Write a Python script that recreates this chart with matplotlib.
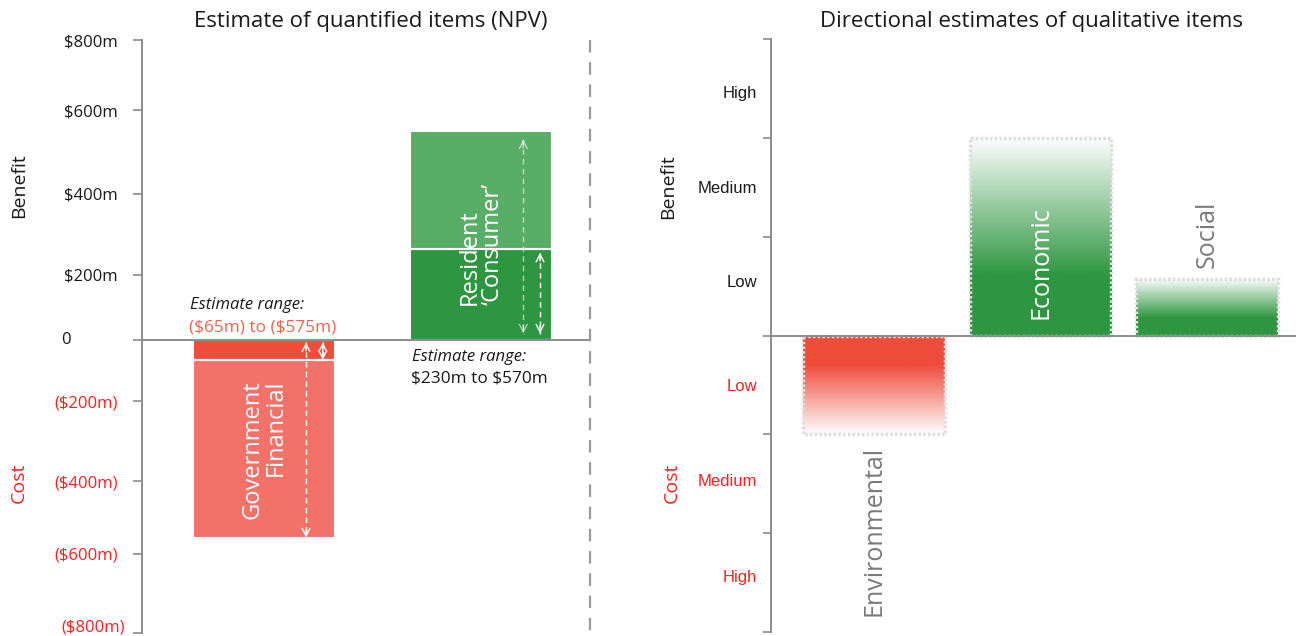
import numpy as np
import matplotlib
matplotlib.use('Agg')
import matplotlib.pyplot as plt
from matplotlib.patches import Rectangle
from matplotlib.lines import Line2D

plt.rcParams['font.family'] = ['Open Sans', 'DejaVu Sans']
plt.rcParams['lines.scale_dashes'] = False
plt.rcParams['text.parse_math'] = False

# ---------------- data ----------------
quant_categories = ['Government\nFinancial', 'Resident\n\u2018Consumer\u2019']
quant_inner = [-65, 265]          # darker first segment
quant_total = [-555, 550]         # full bar value
quant_range_text = ['($65m) to ($575m)', '$230m to $570m']
left_tick_values = [800, 600, 400, 200, 0, -200, -400, -600, -800]
left_tick_labels = ['$800m', '$600m', '$400m', '$200m', '0',
                    '($200m)', '($400m)', '($600m)', '($800m)']

qual_categories = ['Environmental', 'Economic', 'Social']
qual_values = [-1.0, 2.0, 0.57]
qual_levels = ['Low', 'Medium', 'High']

# ---------------- style ----------------
W, H = 1296, 636
BLACK = '#1a1a1a'
RED_TXT = '#ff2020'
SALMON = '#f0644f'
GREEN_D = '#2e9640'
GREEN_L = '#58ae66'
RED_D = '#ef4c3c'
RED_L = '#f2726a'
GREY_AX = '#8c8c8c'
GREY_LBL = '#7a7a7a'

fig = plt.figure(figsize=(W / 100, H / 100), dpi=100)

def fx(px):
    return px / W

def fy(py):
    return 1 - py / H

# pixel rows of the (irregularly spaced) left-axis ticks in the reference
left_tick_pixels = [40, 110, 194, 275, 340, 401, 481, 554, 633]
_vals = np.array(left_tick_values[::-1], dtype=float)
_up = np.array([H - p for p in left_tick_pixels[::-1]], dtype=float)

def _fwd(v):
    return np.interp(v, _vals, _up)

def _inv(u):
    return np.interp(u, _up, _vals)

# ================= LEFT PANEL =================
axL = fig.add_axes([fx(142), fy(633), fx(590) - fx(142), fy(40) - fy(633)])
axL.set_yscale('function', functions=(_fwd, _inv))
axL.set_ylim(-800, 800)
axL.set_xlim(-0.562, 1.5)

xq = np.arange(len(quant_categories))
bw = 0.654
outer = [q - i for q, i in zip(quant_total, quant_inner)]
inner_cols = [RED_D, GREEN_D]
outer_cols = [RED_L, GREEN_L]
axL.bar(xq, quant_inner, width=bw, color=inner_cols, edgecolor='white', linewidth=1.5, zorder=2)
axL.bar(xq, outer, bottom=quant_inner, width=bw, color=outer_cols, edgecolor='white',
        linewidth=1.5, zorder=2)
axL.axhline(0, color=GREY_AX, lw=1.4, zorder=4)

for s in ['top', 'right', 'bottom']:
    axL.spines[s].set_visible(False)
axL.spines['left'].set_color(GREY_AX)
axL.spines['left'].set_linewidth(1.4)
axL.set_xticks([])
axL.set_yticks(left_tick_values)
hidden = ('0', '($800m)')
axL.set_yticklabels([('' if l in hidden else l) for l in left_tick_labels])
axL.tick_params(axis='y', length=6.5, width=1.2, color=GREY_AX, pad=11, labelsize=12)
for lbl, v in zip(axL.get_yticklabels(), left_tick_values):
    lbl.set_color(RED_TXT if v < 0 else BLACK)
axL.yaxis.set_minor_locator(matplotlib.ticker.NullLocator())
fig.text(fx(66), fy(340), left_tick_labels[4], ha='center', va='center', fontsize=12, color=BLACK)
fig.text(fx(125), fy(627), left_tick_labels[8], ha='right', va='center', fontsize=12, color=RED_TXT)

# bar labels
axL.text(xq[0], -131, quant_categories[0], rotation=90, ha='center', va='top',
         multialignment='right', color='white', fontsize=17, linespacing=0.95, zorder=5)
axL.text(xq[1], 108, quant_categories[1], rotation=90, ha='center', va='bottom',
         multialignment='left', color='white', fontsize=17, linespacing=0.95, zorder=5)

# dashed range arrows
def range_arrow(ax, x, y0, y1, alpha=1.0):
    ax.plot([x, x], [y0, y1], color='white', lw=1.0, dashes=(4, 3), alpha=alpha, zorder=5,
            solid_capstyle='butt')
    for tip in (y0, y1):
        away = 1 if tip > (y0 + y1) / 2 else -1
        ax.annotate('', xy=(x, tip), xytext=(0, -6 * away), textcoords='offset points',
                    arrowprops=dict(arrowstyle='->,head_length=0.55,head_width=0.28',
                                    color='white', lw=1.0, alpha=alpha,
                                    shrinkA=0, shrinkB=0), zorder=6)

off1, off2 = 0.193, 0.27
range_arrow(axL, xq[0] + off1, -8, quant_total[0])
range_arrow(axL, xq[0] + off2, -8, quant_inner[0])
range_arrow(axL, xq[1] + off1, quant_total[1] - 20, 20, alpha=0.6)
range_arrow(axL, xq[1] + off2, quant_inner[1] - 10, 20)

# estimate range annotations
fig.text(fx(190), fy(305), 'Estimate range:', style='italic', fontsize=12, color=BLACK,
         ha='left', va='center')
fig.text(fx(189), fy(327), quant_range_text[0], fontsize=12.4, color=SALMON,
         ha='left', va='center')
fig.text(fx(412), fy(357), 'Estimate range:', style='italic', fontsize=12, color=BLACK,
         ha='left', va='center')
fig.text(fx(411), fy(378), quant_range_text[1], fontsize=12.4, color=BLACK,
         ha='left', va='center')

# ================= RIGHT PANEL =================
axR = fig.add_axes([fx(771), fy(632), 1 - fx(771), fy(39) - fy(632)])
xr = np.arange(len(qual_categories))
rw = 0.85

def grad_bar(ax, x, v, color):
    n = 256
    t = np.linspace(0, 1, n)  # 0 at base, 1 at tip
    inten = np.where(t < 0.3, 1.0, np.clip(1 - (t - 0.3) / 0.7, 0.03, 1))
    rgb = np.array(matplotlib.colors.to_rgb(color))
    img = inten[:, None] * rgb[None, :] + (1 - inten[:, None]) * 1.0
    img = img[:, None, :]
    if v < 0:
        img = img[::-1]
        ext = (x - rw / 2, x + rw / 2, v, 0)
    else:
        ext = (x - rw / 2, x + rw / 2, 0, v)
    ax.imshow(img, extent=ext, origin='lower', aspect='auto', interpolation='bilinear', zorder=2)
    ax.add_patch(Rectangle((x - rw / 2, 0), rw, v, fill=False, ec='#dedede', lw=2.5,
                           ls=(0, (1.8, 1.6)), zorder=3))

qcols = [RED_D if v < 0 else GREEN_D for v in qual_values]
for x, v, c in zip(xr, qual_values, qcols):
    grad_bar(axR, x, v, c)

axR.set_xlim(-0.62, 2.535)
axR.set_ylim(-3, 3)
axR.axhline(0, color=GREY_AX, lw=1.4, zorder=4)
for s in ['top', 'right', 'bottom']:
    axR.spines[s].set_visible(False)
axR.spines['left'].set_color(GREY_AX)
axR.spines['left'].set_linewidth(1.4)
axR.set_xticks([])
axR.set_yticks(np.arange(-3, 4))
axR.set_yticklabels([])
axR.tick_params(axis='y', which='major', length=6, width=1.2, color=GREY_AX)
minor_pos = [-2.43, -1.46, -0.5, 0.55, 1.5, 2.46]
minor_lbl = [qual_levels[2], qual_levels[1], qual_levels[0],
             qual_levels[0], qual_levels[1], qual_levels[2]]
axR.set_yticks(minor_pos, minor=True)
axR.set_yticklabels(minor_lbl, minor=True, family='Liberation Sans')
axR.tick_params(axis='y', which='minor', length=0, pad=10, labelsize=12)
for lbl, p in zip(axR.get_yticklabels(minor=True), minor_pos):
    lbl.set_color(RED_TXT if p < 0 else BLACK)

# category labels
axR.text(xr[0], -1.12, qual_categories[0], rotation=90, ha='center', va='top',
         color=GREY_LBL, fontsize=18)
axR.text(xr[1], 0.17, qual_categories[1], rotation=90, ha='center', va='bottom',
         color='white', fontsize=18, zorder=5)
axR.text(xr[2], 0.68, qual_categories[2], rotation=90, ha='center', va='bottom',
         color=GREY_LBL, fontsize=18)

# ================= figure-level decorations =================
fig.text(fx(371), fy(22), 'Estimate of quantified items (NPV)', ha='center', va='center',
         fontsize=16, color=BLACK)
fig.text(fx(1031), fy(22), 'Directional estimates of qualitative items', ha='center',
         va='center', fontsize=16, color=BLACK)

fig.text(fx(19), fy(186), 'Benefit', rotation=90, ha='center', va='center', fontsize=14, color=BLACK)
fig.text(fx(19), fy(483), 'Cost', rotation=90, ha='center', va='center', fontsize=14, color=RED_TXT)
fig.text(fx(668), fy(187), 'Benefit', rotation=90, ha='center', va='center', fontsize=14, color=BLACK)
fig.text(fx(672), fy(483), 'Cost', rotation=90, ha='center', va='center', fontsize=14, color=RED_TXT)

fig.add_artist(Line2D([fx(590), fx(590)], [fy(40), fy(632)], color='#9a9a9a', lw=1.6,
                      dashes=(9, 7)))

fig.savefig('out.png', dpi=100)
